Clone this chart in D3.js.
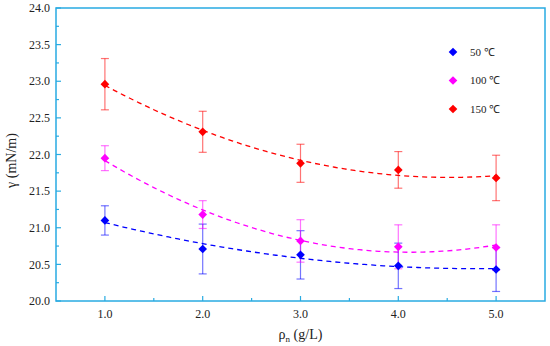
<!DOCTYPE html>
<html>
<head>
<script src="https://d3js.org/d3.v7.min.js"></script>
<style>
  body { margin: 0; background: #fff; }
  text { font-family: "Liberation Serif", "Times New Roman", serif; fill: #222; }
</style>
</head>
<body>
<div id="chart"></div>
<script>
  // values
  var concentrations = [1, 2, 3, 4, 5];
  var seriesNames = ["50 \u2103", "100 \u2103", "150 \u2103"];
  var seriesColors = ["#0000ff", "#ff00ff", "#ff0000"];
  var gamma50  = [21.10, 20.71, 20.63, 20.48, 20.43];
  var gamma100 = [21.95, 21.18, 20.82, 20.74, 20.73];
  var gamma150 = [22.96, 22.31, 21.88, 21.79, 21.68];
  var err50  = [0.20, 0.34, 0.33, 0.31, 0.30];
  var err100 = [0.17, 0.19, 0.29, 0.30, 0.31];
  var err150 = [0.35, 0.28, 0.26, 0.25, 0.31];
  var xTicks = [1, 2, 3, 4, 5];
  var yTicks = [20, 20.5, 21, 21.5, 22, 22.5, 23, 23.5, 24];

  var W = 550, H = 346;
  var margin = {top: 8, right: 5, bottom: 45, left: 56};
  var width = W - margin.left - margin.right;
  var height = H - margin.top - margin.bottom;
  var frame = "#29abe2";

  var series = [gamma50, gamma100, gamma150].map(function(v, i) {
    return {name: seriesNames[i], color: seriesColors[i], values: v, errors: [err50, err100, err150][i]};
  });

  var x = d3.scaleLinear().domain([0.5, 5.5]).range([0, width]);
  var y = d3.scaleLinear().domain([20, 24]).range([height, 0]);

  var svg = d3.select("#chart").append("svg")
    .attr("width", W).attr("height", H);
  var g = svg.append("g")
    .attr("transform", "translate(" + margin.left + "," + margin.top + ")");

  // quadratic least squares fit
  function quadFit(xs, ys) {
    var S = [0, 0, 0, 0, 0], T = [0, 0, 0];
    xs.forEach(function(xv, i) {
      for (var k = 0; k < 5; k++) S[k] += Math.pow(xv, k);
      for (var k = 0; k < 3; k++) T[k] += Math.pow(xv, k) * ys[i];
    });
    var A = [[S[0], S[1], S[2], T[0]], [S[1], S[2], S[3], T[1]], [S[2], S[3], S[4], T[2]]];
    for (var c = 0; c < 3; c++) {
      for (var r = c + 1; r < 3; r++) {
        var f = A[r][c] / A[c][c];
        for (var k = c; k < 4; k++) A[r][k] -= f * A[c][k];
      }
    }
    var co = [0, 0, 0];
    for (var r = 2; r >= 0; r--) {
      var s = A[r][3];
      for (var k = r + 1; k < 3; k++) s -= A[r][k] * co[k];
      co[r] = s / A[r][r];
    }
    return function(t) { return co[0] + co[1] * t + co[2] * t * t; };
  }

  var line = d3.line().x(function(d) { return x(d[0]); }).y(function(d) { return y(d[1]); });

  series.forEach(function(s) {
    var f = quadFit(concentrations, s.values);
    var pts = d3.range(1, 5.001, 0.05).map(function(t) { return [t, f(t)]; });
    g.append("path").attr("d", line(pts))
      .attr("fill", "none").attr("stroke", s.color)
      .attr("stroke-width", 1.3).attr("stroke-dasharray", "5,4");
  });

  // error bars
  series.forEach(function(s) {
    var eb = g.append("g").attr("stroke", s.color).attr("stroke-opacity", 0.55).attr("stroke-width", 1.2);
    concentrations.forEach(function(c, i) {
      var lo = y(s.values[i] - s.errors[i]), hi = y(s.values[i] + s.errors[i]);
      eb.append("line").attr("x1", x(c)).attr("x2", x(c)).attr("y1", lo).attr("y2", hi);
      eb.append("line").attr("x1", x(c) - 4).attr("x2", x(c) + 4).attr("y1", lo).attr("y2", lo);
      eb.append("line").attr("x1", x(c) - 4).attr("x2", x(c) + 4).attr("y1", hi).attr("y2", hi);
    });
  });

  var diamond = d3.symbol().type(d3.symbolDiamond2).size(48);

  series.forEach(function(s) {
    g.selectAll(null).data(concentrations).enter().append("path")
      .attr("d", diamond)
      .attr("transform", function(c, i) { return "translate(" + x(c) + "," + y(s.values[i]) + ")"; })
      .attr("fill", s.color);
  });

  // frame
  g.append("rect").attr("width", width).attr("height", height)
    .attr("fill", "none").attr("stroke", frame).attr("stroke-width", 1.5);

  // ticks (inward)
  var xMinor = d3.range(1.5, 5.5, 1);
  var yMinor = d3.range(20.25, 24, 0.5);
  xTicks.forEach(function(t) {
    g.append("line").attr("x1", x(t)).attr("x2", x(t)).attr("y1", height).attr("y2", height - 5)
      .attr("stroke", frame).attr("stroke-width", 1.2);
    g.append("text").attr("x", x(t)).attr("y", height + 17).attr("text-anchor", "middle")
      .attr("font-size", 12).text(d3.format(".1f")(t));
  });
  xMinor.forEach(function(t) {
    g.append("line").attr("x1", x(t)).attr("x2", x(t)).attr("y1", height).attr("y2", height - 3)
      .attr("stroke", frame).attr("stroke-width", 1.2);
  });
  yTicks.forEach(function(t) {
    g.append("line").attr("x1", 0).attr("x2", 5).attr("y1", y(t)).attr("y2", y(t))
      .attr("stroke", frame).attr("stroke-width", 1.2);
    g.append("text").attr("x", -6).attr("y", y(t)).attr("dy", "0.35em").attr("text-anchor", "end")
      .attr("font-size", 12).text(d3.format(".1f")(t));
  });
  yMinor.forEach(function(t) {
    g.append("line").attr("x1", 0).attr("x2", 3).attr("y1", y(t)).attr("y2", y(t))
      .attr("stroke", frame).attr("stroke-width", 1.2);
  });

  // axis titles
  var xt = svg.append("text").attr("x", margin.left + width / 2).attr("y", 339)
    .attr("text-anchor", "middle").attr("font-size", 14);
  xt.append("tspan").text("\u03c1");
  xt.append("tspan").attr("font-size", 9).attr("dy", 3).text("n");
  xt.append("tspan").attr("dy", -3).text(" (g/L)");

  svg.append("text").attr("transform", "translate(16," + (margin.top + height / 2 + 6) + ") rotate(-90)")
    .attr("text-anchor", "middle").attr("font-size", 14).text("\u03b3 (mN/m)");

  // legend
  var legend = svg.append("g").attr("transform", "translate(453,52)");
  series.forEach(function(s, i) {
    var row = legend.append("g").attr("transform", "translate(0," + (i * 28.5) + ")");
    row.append("path").attr("d", diamond).attr("fill", s.color);
    row.append("text").attr("x", 17).attr("dy", "0.35em").attr("font-size", 11).text(s.name);
  });
</script>
</body>
</html>
